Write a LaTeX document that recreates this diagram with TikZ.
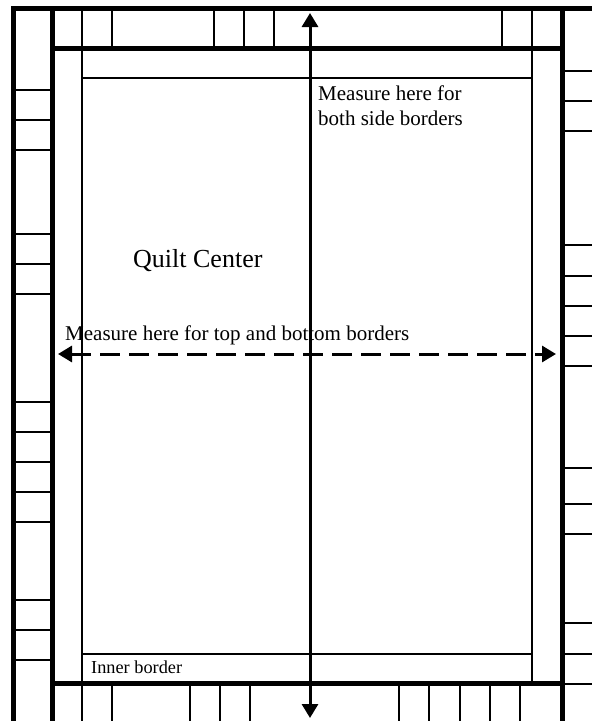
\documentclass[tikz,border=0pt]{standalone}
\usepackage{fontspec}
\setmainfont{Liberation Serif}
\usetikzlibrary{arrows.meta,positioning}

\begin{document}
\begin{tikzpicture}[x=1pt,y=-1pt,>={Triangle[length=14pt,width=16pt]},
  seam/.style={line width=5pt},
  piece/.style={line width=2pt},
  measure/.style={<->,line width=3pt}]
  \useasboundingbox (0,0) rectangle (592,721);
  % labels
  \node[anchor=base west,inner sep=0pt,font=\fontsize{21}{25}\selectfont,align=left] (sidelabel) at (318,125) {Measure here for\\both side borders};
  \node[anchor=base west,inner sep=0pt,font=\fontsize{26}{30}\selectfont] (centerlabel) at (133,267) {Quilt Center};
  \node[anchor=base west,inner sep=0pt,font=\fontsize{21}{25}\selectfont] (toplabel) at (65,340) {Measure here for top and bottom borders};
  \node[anchor=base west,inner sep=0pt,font=\fontsize{18.3}{22}\selectfont] (innerlabel) at (91,673) {Inner border};
  % pieced outer border
  \foreach \y in {90,120,150,234,264,294,402,432,462,492,522,600,630,660}
    \draw[piece] (13,\y) -- (52,\y);
  \foreach \y in {71,101,131,245,276,306,336,366,468,504,534,623,654,684}
    \draw[piece] (562,\y) -- (592,\y);
  \foreach \x in {112,214,244,274,502}
    \draw[piece] (\x,8) -- (\x,48);
  \foreach \x in {112,190,220,250,399,429,460,490,520}
    \draw[piece] (\x,683) -- (\x,721);
  % inner border
  \draw[piece] (82,8) -- (82,721);
  \draw[piece] (532,8) -- (532,683);
  \draw[piece] (82,78) -- (532,78);
  \draw[piece] (82,654) -- (532,654);
  % seams
  \draw[seam] (13,721) -- (13,8) -- (592,8);
  \draw[seam] (52,721) -- (52,8);
  \draw[seam] (562,721) -- (562,8);
  \draw[seam] (52,48) -- (562,48);
  \draw[seam] (52,683) -- (562,683);
  % measuring arrows
  \coordinate (topend) at (310,13);
  \coordinate (bottomend) at (310,718);
  \coordinate (leftend) at (58,354);
  \coordinate (rightend) at (556,354);
  \draw[measure] (topend) -- (bottomend);
  \draw[measure,dash pattern=on 20pt off 9pt] (leftend) -- (rightend);
\end{tikzpicture}
\end{document}
